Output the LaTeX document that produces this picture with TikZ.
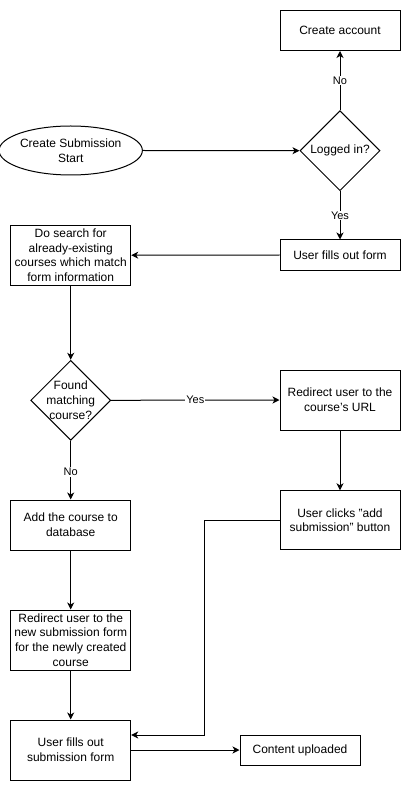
\documentclass[tikz,border=0pt]{standalone}
\usepackage{fontspec}
\setmainfont{Liberation Sans}
\usetikzlibrary{shapes.geometric,arrows.meta}
\begin{document}
\begin{tikzpicture}[x=1pt,y=-1pt,
  every node/.style={font=\fontsize{12}{14.6}\selectfont, align=center, inner sep=0pt},
  box/.style={draw, line width=1pt, fill=white, minimum width=120pt},
  oval/.style={draw, line width=1pt, ellipse, minimum width=120pt, minimum height=49pt},
  dia/.style={draw, line width=1pt, diamond, aspect=1, minimum width=80pt, minimum height=80pt},
  dlabel/.style={font=\fontsize{12}{14.6}\selectfont, align=center},
  elabel/.style={fill=white, font=\fontsize{11}{13}\selectfont, inner sep=1pt},
  arr/.style={line width=1pt, -{Stealth[length=7pt,width=7pt,inset=2pt]}}
]
\useasboundingbox (0,0) rectangle (411,791);

% nodes of the flow
\node[box, minimum height=40pt] (acct) at (340,30.5) {Create account};
\node[oval] (start) at (70.7,150.5) {Create Submission\\Start};
\node[dia, label={[dlabel]center:Logged in?}] (logged) at (340,150.7) {};
\node[box, minimum height=30pt] (fillform) at (340,255) {User fills out form};
\node[box, minimum height=60pt] (search) at (70.7,255.2) {Do search for\\already-existing\\courses which match\\form information};
\node[dia, label={[dlabel]center:Found\\matching\\course?}] (found) at (70.7,400.3) {};
\node[box, minimum height=60pt] (redir) at (340,400) {Redirect user to the\\course's URL};
\node[box, minimum height=59pt] (clicks) at (340,520.3) {User clicks "add\\submission" button};
\node[box, minimum height=50pt] (addc) at (70.7,525) {Add the course to\\database};
\node[box, minimum height=60pt] (redir2) at (70.7,640) {Redirect user to the\\new submission form\\for the newly created\\course};
\node[box, minimum height=60pt] (subform) at (70.7,750) {User fills out\\submission form};
\node[box, minimum height=30pt] (upl) at (300,750) {Content uploaded};

% connectors
\draw[arr] (logged.north) -- node[elabel, pos=0.5] {No} (acct.south);
\draw[arr] (start.east) -- (logged.west);
\draw[arr] (logged.south) -- node[elabel, pos=0.5] {Yes} (fillform.north);
\draw[arr] (fillform.west) -- (search.east);
\draw[arr] (search.south) -- (found.north);
\draw[arr] (found.east) -- node[elabel, pos=0.5] {Yes} (redir.west);
\draw[arr] (found.south) -- node[elabel, pos=0.53] {No} (addc.north);
\draw[arr] (redir.south) -- (clicks.north);
\draw[arr] (addc.south) -- (redir2.north);
\draw[arr] (redir2.south) -- (subform.north);
\draw[arr] (clicks.west) -- ++(-75,0) |- ([yshift=15pt]subform.east);
\draw[arr] (subform.east) -- (upl.west);
\end{tikzpicture}
\end{document}
